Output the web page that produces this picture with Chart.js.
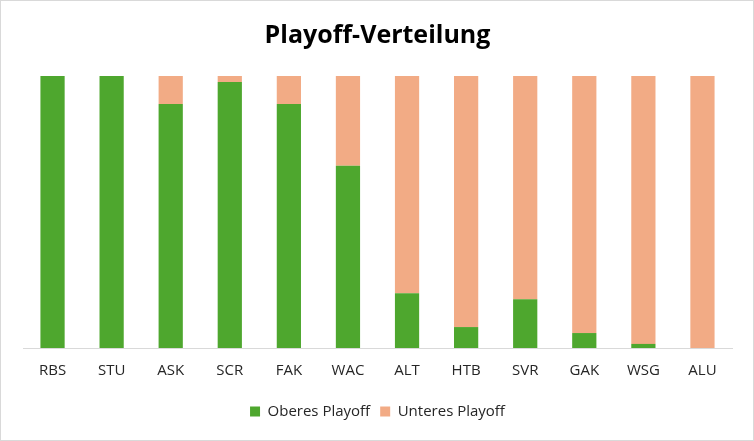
<!DOCTYPE html>
<html>
<head>
<meta charset="utf-8">
<script src="https://cdn.jsdelivr.net/npm/chart.js@4"></script>
<style>
  body { margin: 0; background: #fff; }
  #box { width: 754px; height: 441px; box-sizing: border-box; border: 1px solid #d9d9d9; }
</style>
</head>
<body>
<div id="box"><canvas id="chart"></canvas></div>
<script>
// Teams und Anteile (in %)
var teams = ['RBS', 'STU', 'ASK', 'SCR', 'FAK', 'WAC', 'ALT', 'HTB', 'SVR', 'GAK', 'WSG', 'ALU'];
var oberesPlayoff = [100, 100, 89.7, 97.8, 89.7, 67, 20.1, 7.7, 17.9, 5.5, 1.5, 0];
var unteresPlayoff = [0, 0, 10.3, 2.2, 10.3, 33, 79.9, 92.3, 82.1, 94.5, 98.5, 100];

var ctx = document.getElementById('chart').getContext('2d');
Chart.defaults.font.family = '"Open Sans", Lato, sans-serif';
Chart.defaults.color = '#262626';

new Chart(ctx, {
    type: 'bar',
    data: {
        labels: teams,
        datasets: [{
            label: 'Oberes Playoff',
            data: oberesPlayoff,
            backgroundColor: '#4ea72e'
        }, {
            label: 'Unteres Playoff',
            data: unteresPlayoff,
            backgroundColor: '#f2ab85'
        }]
    },
    options: {
        responsive: true,
        maintainAspectRatio: false,
        animation: false,
        layout: { padding: { left: 22, right: 21, top: 0, bottom: 11 } },
        datasets: { bar: { categoryPercentage: 1, barPercentage: 0.41 } },
        scales: {
            x: {
                stacked: true,
                grid: { display: false, drawTicks: false },
                border: { color: '#d9d9d9', width: 1 },
                ticks: { padding: 14, font: { size: 15 } }
            },
            y: {
                stacked: true,
                display: false,
                min: 0,
                max: 100
            }
        },
        plugins: {
            title: {
                display: true,
                text: 'Playoff-Verteilung',
                color: '#000',
                font: { size: 25, weight: 'bold' },
                padding: { top: 20, bottom: 25 }
            },
            legend: {
                position: 'bottom',
                labels: {
                    boxWidth: 10,
                    boxHeight: 10,
                    padding: 10,
                    font: { size: 15 }
                }
            },
            tooltip: { enabled: false }
        }
    }
});
</script>
</body>
</html>
